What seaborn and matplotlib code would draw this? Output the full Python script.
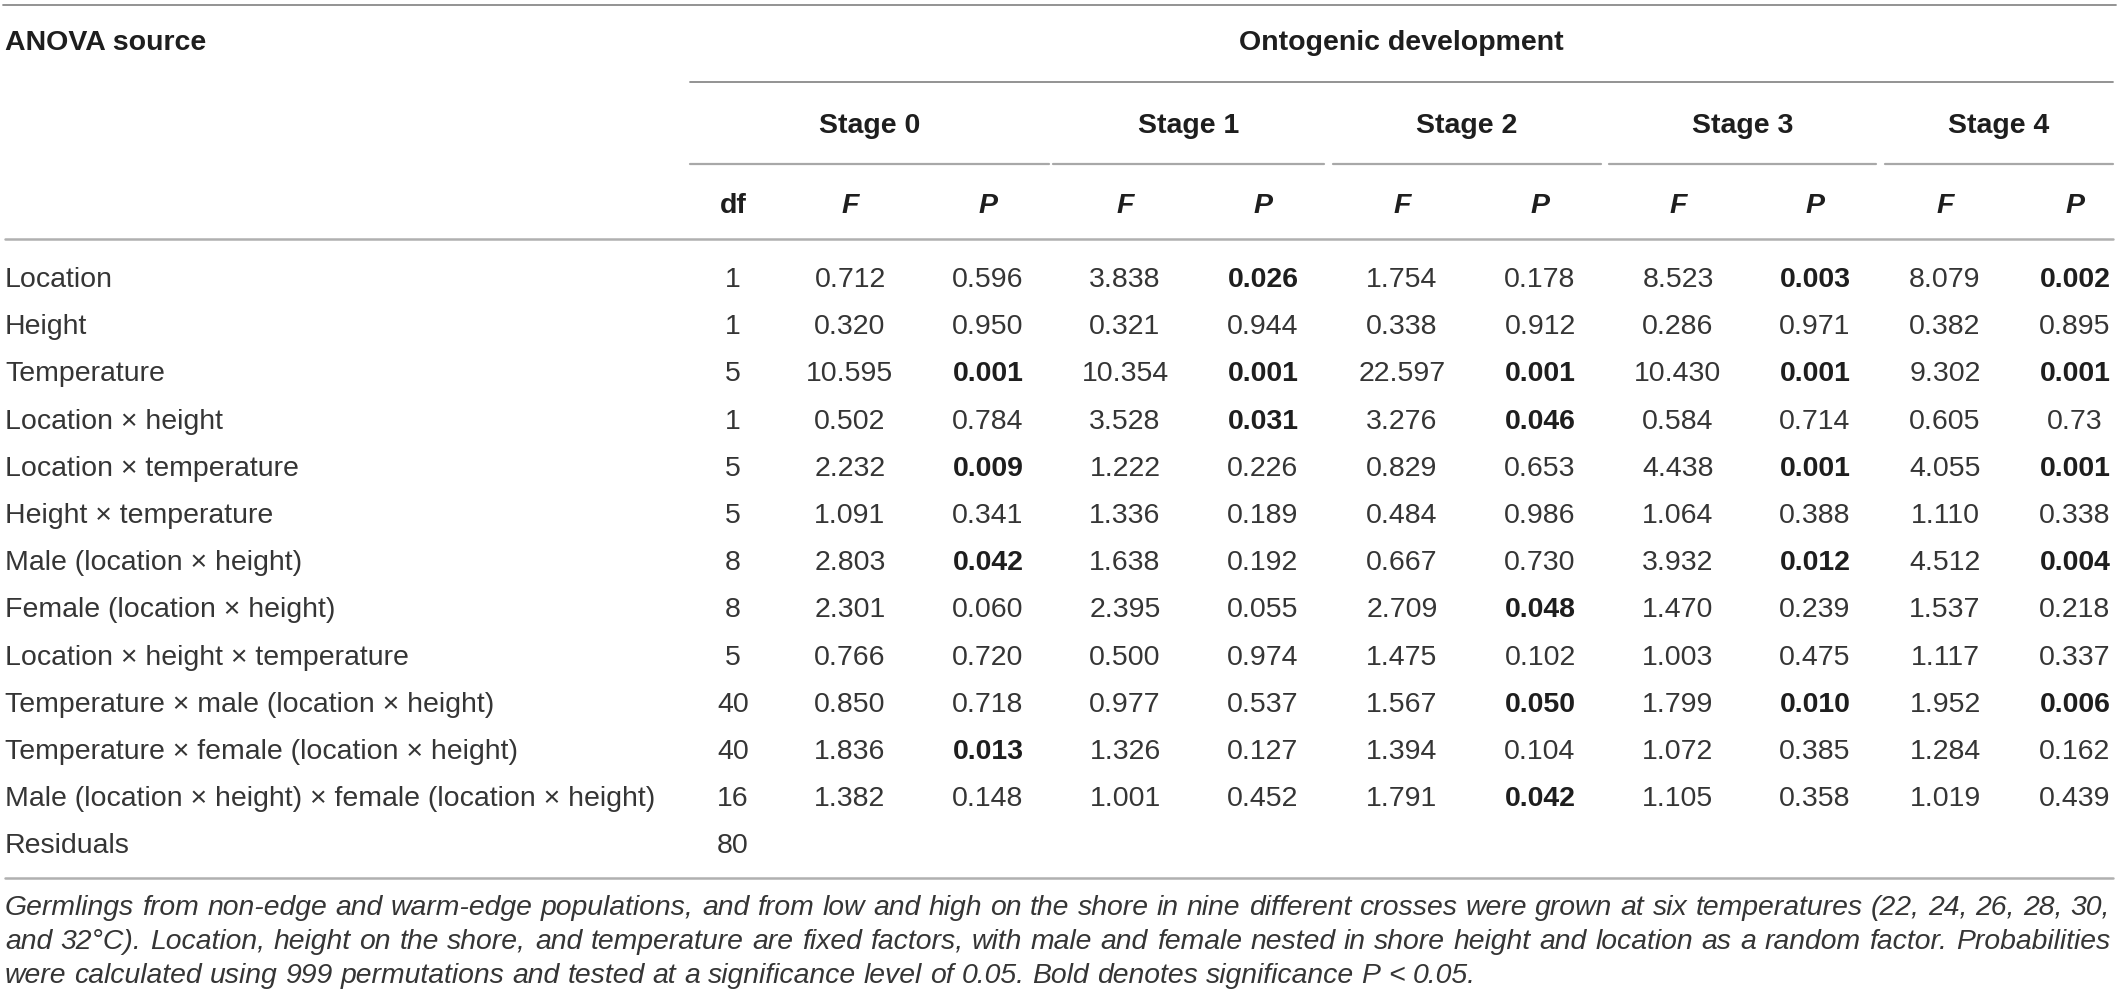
import matplotlib
matplotlib.use("Agg")
import matplotlib.pyplot as plt
import seaborn as sns
from matplotlib.font_manager import FontProperties

sns.set_theme(style="white")
plt.rcParams['font.family'] = ['Liberation Sans', 'DejaVu Sans']

# ---- table data ----
sources = [
    "Location", "Height", "Temperature", "Location \u00d7 height",
    "Location \u00d7 temperature", "Height \u00d7 temperature",
    "Male (location \u00d7 height)", "Female (location \u00d7 height)",
    "Location \u00d7 height \u00d7 temperature",
    "Temperature \u00d7 male (location \u00d7 height)",
    "Temperature \u00d7 female (location \u00d7 height)",
    "Male (location \u00d7 height) \u00d7 female (location \u00d7 height)",
    "Residuals",
]
df_values = ["1", "1", "5", "1", "5", "5", "8", "8", "5", "40", "40", "16", "80"]

stages = ["Stage 0", "Stage 1", "Stage 2", "Stage 3", "Stage 4"]
f_values = [
    ["0.712", "0.320", "10.595", "0.502", "2.232", "1.091", "2.803", "2.301", "0.766", "0.850", "1.836", "1.382"],
    ["3.838", "0.321", "10.354", "3.528", "1.222", "1.336", "1.638", "2.395", "0.500", "0.977", "1.326", "1.001"],
    ["1.754", "0.338", "22.597", "3.276", "0.829", "0.484", "0.667", "2.709", "1.475", "1.567", "1.394", "1.791"],
    ["8.523", "0.286", "10.430", "0.584", "4.438", "1.064", "3.932", "1.470", "1.003", "1.799", "1.072", "1.105"],
    ["8.079", "0.382", "9.302", "0.605", "4.055", "1.110", "4.512", "1.537", "1.117", "1.952", "1.284", "1.019"],
]
p_values = [
    ["0.596", "0.950", "0.001", "0.784", "0.009", "0.341", "0.042", "0.060", "0.720", "0.718", "0.013", "0.148"],
    ["0.026", "0.944", "0.001", "0.031", "0.226", "0.189", "0.192", "0.055", "0.974", "0.537", "0.127", "0.452"],
    ["0.178", "0.912", "0.001", "0.046", "0.653", "0.986", "0.730", "0.048", "0.102", "0.050", "0.104", "0.042"],
    ["0.003", "0.971", "0.001", "0.714", "0.001", "0.388", "0.012", "0.239", "0.475", "0.010", "0.385", "0.358"],
    ["0.002", "0.895", "0.001", "0.73", "0.001", "0.338", "0.004", "0.218", "0.337", "0.006", "0.162", "0.439"],
]
caption_lines = [
    "Germlings from non-edge and warm-edge populations, and from low and high on the shore in nine different crosses were grown at six temperatures (22, 24, 26, 28, 30,",
    "and 32\u00b0C). Location, height on the shore, and temperature are fixed factors, with male and female nested in shore height and location as a random factor. Probabilities",
    "were calculated using 999 permutations and tested at a significance level of 0.05. Bold denotes significance P < 0.05.",
]

# ---- layout (pixel space) ----
W, H = 2118, 1002
df_x = 733
f_x = [850, 1125, 1402, 1678, 1945]
p_x = [988, 1263, 1540, 1815, 2075]
stage_spans = [(690, 1049), (1053, 1324), (1333, 1601), (1609, 1876), (1885, 2113)]
row0, row_step = 287, 47.2
fs = 20.5
txt_col = "#353535"
hdr_col = "#1e1e1e"

fig = plt.figure(figsize=(W / 100, H / 100), dpi=100)
ax = fig.add_axes([0, 0, 1, 1])
ax.set_xlim(0, W)
ax.set_ylim(H, 0)
ax.axis("off")

# rules
ax.plot([3, 2116], [5, 5], color="#8a8a8a", lw=1.3)
ax.plot([690, 2113], [82, 82], color="#8a8a8a", lw=1.3)
for x0, x1 in stage_spans:
    ax.plot([x0, x1], [164, 164], color="#a8a8a8", lw=1.6)
ax.plot([5, 2113], [239, 239], color="#b0b0b0", lw=1.8)
ax.plot([5, 2113], [878, 878], color="#b0b0b0", lw=1.8)

# headers
ax.text(5, 50, "ANOVA source", fontsize=fs, fontweight="bold", color=hdr_col, va="baseline")
ax.text((690 + 2113) / 2, 50, "Ontogenic development", fontsize=fs, fontweight="bold",
        color=hdr_col, ha="center", va="baseline")
for (x0, x1), name in zip(stage_spans, stages):
    ax.text((x0 + x1) / 2, 133, name, fontsize=fs, fontweight="bold", color=hdr_col,
            ha="center", va="baseline")
ax.text(df_x, 213, "df", fontsize=fs, fontweight="bold", color=hdr_col, ha="center", va="baseline")
for fx, px in zip(f_x, p_x):
    ax.text(fx, 213, "F", fontsize=fs, fontweight="bold", fontstyle="italic", color=hdr_col,
            ha="center", va="baseline")
    ax.text(px, 213, "P", fontsize=fs, fontweight="bold", fontstyle="italic", color=hdr_col,
            ha="center", va="baseline")

# body
for i, (src, d) in enumerate(zip(sources, df_values)):
    y = row0 + i * row_step
    ax.text(5, y, src, fontsize=fs, color=txt_col, va="baseline")
    ax.text(df_x, y, d, fontsize=fs, color=txt_col, ha="center", va="baseline")
for s in range(len(stages)):
    for i, (fv, pv) in enumerate(zip(f_values[s], p_values[s])):
        y = row0 + i * row_step
        ax.text(f_x[s], y, fv, fontsize=fs, color=txt_col, ha="center", va="baseline")
        bold = float(pv) <= 0.05
        ax.text(p_x[s], y, pv, fontsize=fs, color=hdr_col if bold else txt_col,
                fontweight="bold" if bold else "normal", ha="center", va="baseline")

# caption, justified like the journal layout
renderer = fig.canvas.get_renderer()
def text_w(s, prop):
    wd, _, _ = renderer.get_text_width_height_descent(s, prop, ismath=False)
    return wd

# last caption line runs to about x=1486 in the reference; size the font from it
probe = FontProperties(family="Liberation Sans", style="italic", size=10)
cap_fs = 10 * 1481 / text_w(caption_lines[-1], probe)
cap_prop = FontProperties(family="Liberation Sans", style="italic", size=cap_fs)

cap_y = [915, 949, 983]
left, right = 5, 2110
space_w = text_w("a a", cap_prop) - text_w("aa", cap_prop)
for k, line in enumerate(caption_lines):
    words = line.split(" ")
    widths = [text_w(w, cap_prop) for w in words]
    if k < len(caption_lines) - 1:
        gap = max(space_w * 0.8, (right - left - sum(widths)) / (len(words) - 1))
    else:
        gap = space_w
    x = left
    for w, wd in zip(words, widths):
        ax.text(x, cap_y[k], w, fontproperties=cap_prop, color=txt_col, va="baseline")
        x += wd + gap

fig.savefig("out.png", dpi=100)
